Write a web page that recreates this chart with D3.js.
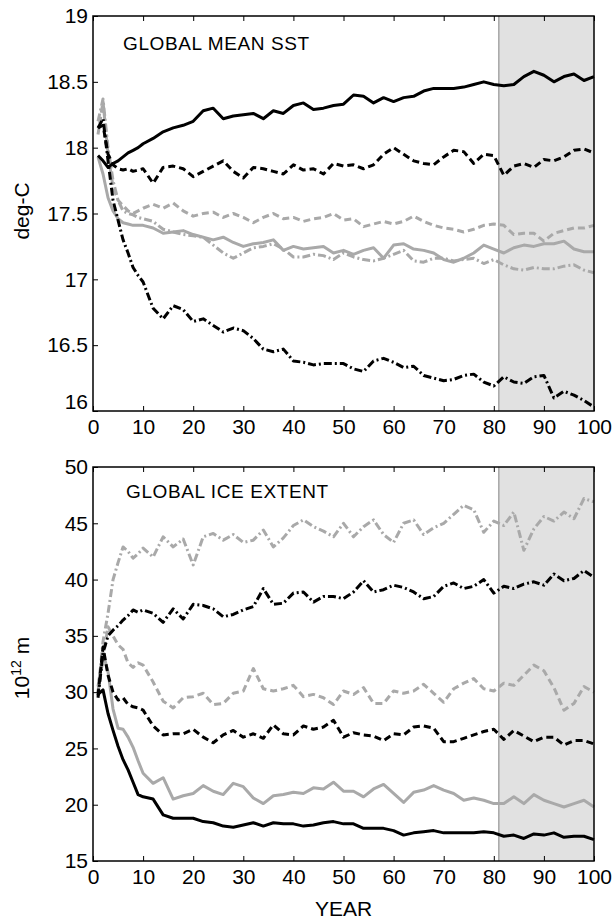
<!DOCTYPE html>
<html>
<head>
<meta charset="utf-8">
<script src="https://cdn.jsdelivr.net/npm/d3@7"></script>
<style>
  html, body { margin: 0; padding: 0; background: #fff; }
  svg text { font-family: "Liberation Sans", Arial, Helvetica, sans-serif; fill: #000; }
</style>
</head>
<body>
<div id="chart"></div>
<script>
// ---------------- DATA ----------------
const years = [1,2,3,4,5,6,7,8,9,10,12,14,16,18,20,22,24,26,28,30,32,34,36,38,40,42,44,46,48,50,
  52,54,56,58,60,62,64,66,68,70,72,74,76,78,80,82,84,86,88,90,92,94,96,98,100];

const xTicks = [0,10,20,30,40,50,60,70,80,90,100];
const sstTicks = [16,16.5,17,17.5,18,18.5,19];
const iceTicks = [15,20,25,30,35,40,45,50];
const shadeStart = 81, shadeEnd = 100;

// Global mean SST (deg-C)
const sstBlackSolid = [17.94,17.90,17.85,17.88,17.90,17.93,17.96,17.98,18.00,18.03,18.07,18.12,18.15,18.17,18.20,18.28,18.30,18.22,18.24,18.25,
  18.26,18.22,18.28,18.26,18.32,18.34,18.29,18.30,18.32,18.33,18.40,18.39,18.34,18.38,18.35,18.38,18.39,18.43,18.45,18.45,
  18.45,18.46,18.48,18.50,18.48,18.47,18.48,18.54,18.58,18.55,18.50,18.54,18.56,18.51,18.54];
const sstBlackDashed = [18.15,18.17,17.95,17.87,17.84,17.83,17.84,17.82,17.83,17.84,17.73,17.85,17.86,17.84,17.78,17.82,17.86,17.90,17.82,17.77,
  17.85,17.84,17.82,17.80,17.87,17.83,17.84,17.80,17.88,17.86,17.87,17.84,17.87,17.95,18.00,17.95,17.90,17.88,17.87,17.93,
  17.98,17.97,17.88,17.95,17.94,17.79,17.86,17.88,17.85,17.91,17.90,17.93,17.98,17.99,17.96];
const sstBlackDashDot = [18.15,18.22,17.90,17.60,17.45,17.30,17.20,17.09,17.03,16.98,16.78,16.70,16.80,16.77,16.68,16.70,16.65,16.60,16.63,16.61,
  16.55,16.47,16.45,16.47,16.38,16.37,16.35,16.36,16.36,16.36,16.32,16.30,16.38,16.40,16.37,16.33,16.34,16.27,16.25,16.23,
  16.24,16.27,16.28,16.22,16.19,16.26,16.22,16.21,16.26,16.27,16.10,16.15,16.12,16.08,16.03];
const sstGrayDashed = [18.10,18.35,17.95,17.70,17.60,17.56,17.52,17.50,17.52,17.54,17.57,17.54,17.58,17.52,17.48,17.50,17.51,17.47,17.50,17.47,
  17.43,17.47,17.50,17.46,17.47,17.44,17.46,17.47,17.50,17.45,17.46,17.40,17.42,17.44,17.42,17.44,17.48,17.44,17.41,17.39,
  17.38,17.36,17.38,17.41,17.42,17.41,17.34,17.35,17.35,17.29,17.35,17.37,17.39,17.39,17.41];
const sstGraySolid = [17.93,17.80,17.62,17.52,17.46,17.43,17.42,17.41,17.41,17.41,17.39,17.35,17.36,17.37,17.34,17.32,17.30,17.32,17.28,17.25,
  17.27,17.28,17.30,17.22,17.25,17.23,17.24,17.25,17.20,17.22,17.19,17.22,17.24,17.16,17.26,17.27,17.23,17.22,17.20,17.15,
  17.13,17.16,17.20,17.26,17.23,17.20,17.24,17.26,17.25,17.27,17.27,17.29,17.23,17.21,17.21];
const sstGrayDashDot = [18.20,18.37,18.00,17.75,17.60,17.52,17.50,17.49,17.47,17.46,17.44,17.38,17.36,17.34,17.33,17.32,17.26,17.20,17.16,17.20,
  17.24,17.25,17.27,17.23,17.17,17.17,17.19,17.18,17.15,17.20,17.17,17.15,17.14,17.16,17.19,17.22,17.14,17.13,17.16,17.16,
  17.14,17.15,17.16,17.12,17.15,17.11,17.08,17.07,17.09,17.08,17.08,17.10,17.11,17.07,17.05];

// Global ice extent (10^12 m^2)
const iceGrayDashDot = [30.0,34.5,37.0,40.0,41.5,42.9,42.5,41.9,42.3,42.8,42.0,43.8,42.9,43.6,41.3,43.8,44.1,43.5,44.0,43.3,
  43.5,44.4,42.9,43.7,44.8,45.3,44.7,44.3,43.8,45.0,43.8,44.7,45.3,44.0,43.3,45.0,45.3,44.0,44.6,45.0,
  45.8,46.6,46.2,44.2,45.2,44.8,46.0,42.6,44.5,45.6,45.2,46.0,45.4,47.2,46.9];
const iceBlackDashDot = [29.5,33.5,35.0,35.5,35.9,36.4,36.8,37.3,37.1,37.3,37.0,36.2,37.4,36.5,37.8,37.7,37.4,36.7,36.9,37.3,
  37.6,39.2,37.8,37.9,38.8,38.9,38.0,38.5,38.5,38.3,38.9,39.9,38.9,39.1,39.5,39.3,38.9,38.3,38.5,39.4,
  39.7,39.2,39.4,40.0,38.8,39.4,39.2,39.6,39.8,39.5,40.5,39.9,40.1,40.8,40.2];
const iceGrayDashed = [30.0,33.0,35.8,35.0,34.2,33.8,32.6,32.2,32.6,32.4,30.9,29.2,28.6,29.5,29.6,29.9,28.9,29.0,29.9,30.1,
  32.1,30.3,30.1,30.3,30.6,29.6,29.8,29.5,28.9,30.1,29.8,30.4,29.0,29.0,30.1,29.9,30.1,30.7,29.9,29.1,
  30.3,30.8,31.2,30.3,30.1,30.8,30.6,31.5,32.4,31.9,30.4,28.4,29.0,30.5,30.0];
const iceBlackDashed = [29.7,34.0,31.5,30.0,29.3,29.5,28.9,28.7,28.6,28.4,27.0,26.2,26.3,26.3,26.7,26.0,25.5,26.2,26.6,26.0,
  26.3,25.9,27.1,26.3,26.2,27.0,26.7,26.9,27.5,26.0,26.4,26.2,26.1,25.7,26.3,26.2,26.9,27.0,26.8,25.6,
  25.6,25.9,26.2,26.5,26.7,25.8,26.6,26.1,25.6,26.0,26.0,25.3,25.7,25.7,25.4];
const iceGraySolid = [30.5,33.5,31.8,28.5,26.8,26.7,26.0,25.1,23.9,22.8,21.9,22.4,20.5,20.8,21.0,21.7,21.2,20.9,21.9,21.6,
  20.6,20.1,20.8,20.9,21.1,21.0,21.5,21.4,22.0,21.2,21.2,20.7,21.4,21.8,21.0,20.2,21.1,21.3,21.7,21.3,
  21.0,20.4,20.6,20.4,20.1,20.1,20.7,20.1,20.9,20.4,20.1,19.8,20.1,20.4,19.8];
const iceBlackSolid = [29.8,30.2,28.1,26.6,25.2,24.0,23.1,22.0,20.9,20.7,20.5,19.1,18.8,18.8,18.8,18.5,18.4,18.1,18.0,18.2,
  18.4,18.1,18.4,18.3,18.3,18.1,18.2,18.4,18.5,18.3,18.3,17.9,17.9,17.9,17.7,17.3,17.5,17.6,17.7,17.5,
  17.5,17.5,17.5,17.6,17.5,17.2,17.3,17.0,17.4,17.3,17.5,17.1,17.2,17.2,16.9];

// ---------------- STYLES ----------------
const GRAY = "#a9a9a9";
const DASH = "7,4";
const DASHDOT = "8,3,2,3";
const TICK_FONT = 21;

const W = 613, H = 922;
const xLeft = 93, xRight = 594;

const svg = d3.select("#chart").append("svg")
  .attr("width", W).attr("height", H)
  .attr("viewBox", `0 0 ${W} ${H}`);

const x = d3.scaleLinear().domain([0, 100]).range([xLeft, xRight]);

function panel(cfg) {
  const y = d3.scaleLinear().domain(cfg.domain).range([cfg.bottom, cfg.top]);
  const g = svg.append("g");

  // shaded period
  g.append("rect")
    .attr("x", x(shadeStart)).attr("y", cfg.top)
    .attr("width", x(shadeEnd) - x(shadeStart)).attr("height", cfg.bottom - cfg.top)
    .attr("fill", "#e1e1e1");
  g.append("line")
    .attr("x1", x(shadeStart)).attr("x2", x(shadeStart))
    .attr("y1", cfg.top).attr("y2", cfg.bottom)
    .attr("stroke", "#a6a6a6").attr("stroke-width", 1.5);

  const line = d3.line().x((d, i) => x(years[i])).y(d => y(d));
  cfg.series.forEach(s => {
    g.append("path")
      .datum(s.values)
      .attr("d", line)
      .attr("fill", "none")
      .attr("stroke", s.color)
      .attr("stroke-width", s.width || 3)
      .attr("stroke-dasharray", s.dash || null)
      .attr("stroke-linejoin", "round");
  });

  // axes
  const xAxis = g.append("g")
    .attr("transform", `translate(0,${cfg.bottom})`)
    .call(d3.axisBottom(x).tickValues(xTicks).tickSizeInner(-5).tickSizeOuter(0).tickPadding(8).tickFormat(d3.format("d")));
  const xTop = g.append("g")
    .attr("transform", `translate(0,${cfg.top})`)
    .call(d3.axisTop(x).tickValues(xTicks).tickSizeInner(-5).tickSizeOuter(0).tickFormat(""));
  const yAxis = g.append("g")
    .attr("transform", `translate(${xLeft},0)`)
    .call(d3.axisLeft(y).tickValues(cfg.ticks).tickSizeInner(-5).tickSizeOuter(0).tickPadding(5).tickFormat(d => String(d)));

  [xAxis, xTop, yAxis].forEach(a => {
    a.select(".domain").remove();
    a.selectAll(".tick line").attr("stroke", "#000").attr("stroke-width", 1);
    a.selectAll("text").attr("font-size", TICK_FONT).attr("font-family", null);
  });
  if (cfg.adjust) cfg.adjust(yAxis, xAxis);

  // frame
  g.append("rect")
    .attr("x", xLeft).attr("y", cfg.top)
    .attr("width", xRight - xLeft).attr("height", cfg.bottom - cfg.top)
    .attr("fill", "none").attr("stroke", "#000").attr("stroke-width", 1.5);

  g.append("text")
    .attr("x", cfg.titleX).attr("y", cfg.titleY)
    .attr("font-size", 19).attr("letter-spacing", 0.6)
    .text(cfg.title);
  return g;
}

panel({
  top: 16, bottom: 411, domain: [16, 19], ticks: sstTicks,
  title: "GLOBAL MEAN SST", titleX: 123, titleY: 50,
  series: [
    { values: sstGrayDashed, color: GRAY, dash: DASH },
    { values: sstGraySolid, color: GRAY },
    { values: sstGrayDashDot, color: GRAY, dash: DASHDOT },
    { values: sstBlackDashed, color: "#000", dash: DASH },
    { values: sstBlackDashDot, color: "#000", dash: DASHDOT },
    { values: sstBlackSolid, color: "#000" }
  ],
  adjust: (yAxis) => {
    yAxis.selectAll(".tick").filter(d => d === 16).select("text").attr("y", -9);
  }
});

panel({
  top: 467, bottom: 861, domain: [15, 50], ticks: iceTicks,
  title: "GLOBAL ICE EXTENT", titleX: 126, titleY: 498,
  series: [
    { values: iceGrayDashDot, color: GRAY, dash: DASHDOT },
    { values: iceGrayDashed, color: GRAY, dash: DASH },
    { values: iceGraySolid, color: GRAY },
    { values: iceBlackDashDot, color: "#000", dash: DASHDOT },
    { values: iceBlackDashed, color: "#000", dash: DASH },
    { values: iceBlackSolid, color: "#000" }
  ]
});

// axis titles
svg.append("text")
  .attr("transform", "translate(29,211) rotate(-90)")
  .attr("text-anchor", "middle").attr("font-size", 21)
  .text("deg-C");

const iceLab = svg.append("text")
  .attr("transform", "translate(29,668) rotate(-90)")
  .attr("text-anchor", "middle").attr("font-size", 21);
iceLab.append("tspan").text("10");
iceLab.append("tspan").attr("font-size", 14).attr("dy", -8).text("12");
iceLab.append("tspan").attr("dy", 8).text(" m");

svg.append("text")
  .attr("x", x(50)).attr("y", 916)
  .attr("text-anchor", "middle").attr("font-size", 21)
  .text("YEAR");
</script>
</body>
</html>
